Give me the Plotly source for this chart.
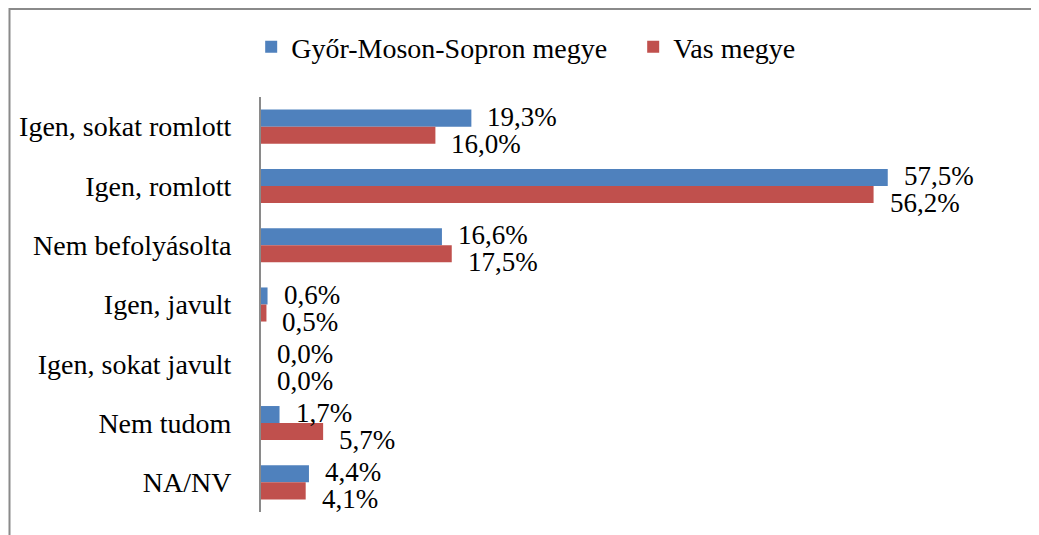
import plotly.graph_objects as go

categories = ["Igen, sokat romlott", "Igen, romlott", "Nem befolyásolta",
              "Igen, javult", "Igen, sokat javult", "Nem tudom", "NA/NV"]
gyor = [19.3, 57.5, 16.6, 0.6, 0.0, 1.7, 4.4]
vas = [16.0, 56.2, 17.5, 0.5, 0.0, 5.7, 4.1]
series_names = ["Győr-Moson-Sopron megye", "Vas megye"]
colors = ["#4F81BD", "#C0504D"]

FONT = "Liberation Serif, Times New Roman, serif"
FS = 28
LFS = 27

fig = go.Figure()
for name, vals, col in zip(series_names, [gyor, vas], colors):
    fig.add_trace(go.Bar(y=categories, x=vals, name=name, orientation="h",
                         marker=dict(color=col, line=dict(width=0))))

def fmt(v):
    return f"{v:.1f}".replace(".", ",") + "%"

annotations = []
for vals, ysh in [(gyor, 10), (vas, -17)]:
    for c, v in zip(categories, vals):
        annotations.append(dict(x=v, y=c, xref="x", yref="y", text=fmt(v),
                                showarrow=False, xanchor="left", yanchor="middle",
                                xshift=14, yshift=ysh,
                                font=dict(family=FONT, size=LFS, color="black")))

L, T, W, H = 253, 89, 1031, 527
PW, PH = 654, 415
legend_y = (T + PH - 39) / PH
fig.update_layout(
    width=W, height=H,
    margin=dict(l=L, r=W - L - PW, t=T, b=H - T - PH, autoexpand=False),
    paper_bgcolor="white", plot_bgcolor="white",
    barmode="group", bargap=0.425, bargroupgap=0,
    font=dict(family=FONT, size=FS, color="black"),
    legend=dict(orientation="h", x=-0.015, xanchor="left",
                y=legend_y, yanchor="middle", font=dict(family=FONT, size=FS),
                entrywidth=337, entrywidthmode="pixels", tracegroupgap=0),
    annotations=annotations,
    shapes=[dict(type="rect", xref="paper", yref="paper",
                 x0=(1.5 - L) / PW, x1=1.6, y0=-0.5, y1=(T + PH - 1) / PH,
                 line=dict(color="#8a8a8a", width=2), layer="below")],
    showlegend=True,
)
fig.update_xaxes(range=[0, 60], showgrid=False, zeroline=False, showticklabels=False,
                 showline=False)
fig.update_yaxes(range=[len(categories) - 0.5, -0.5], showgrid=False, showline=True,
                 linecolor="#8a8a8a", linewidth=2, ticks="", ticklabelstandoff=22,
                 tickfont=dict(family=FONT, size=FS, color="black"))

fig.write_html("out.html")
